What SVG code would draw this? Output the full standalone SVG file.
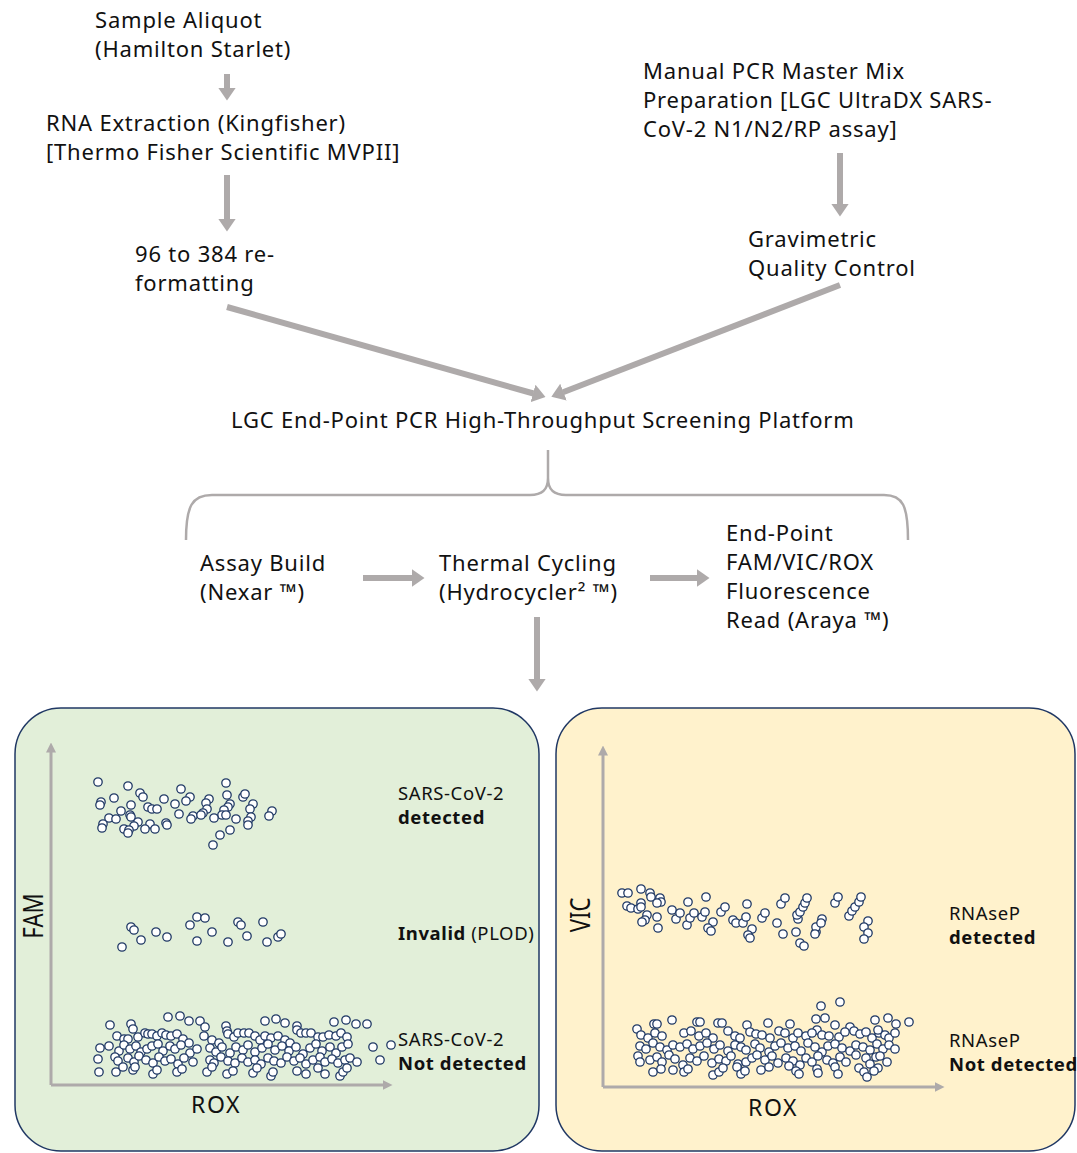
<svg xmlns="http://www.w3.org/2000/svg" xmlns:xlink="http://www.w3.org/1999/xlink" width="1077" height="1153" viewBox="0 0 1077 1153">
<style>
text{font-family:"Noto Sans","Open Sans","Liberation Sans",sans-serif;fill:#111;}
.t{font-size:22px;letter-spacing:0.8px;}
.l{font-size:18.5px;letter-spacing:0.6px;}
.rox{font-size:23px;letter-spacing:1.5px;}
.ax-lbl{font-size:27px;}
.b{font-weight:bold;}
.arr{stroke:#aeaaaa;stroke-width:6;fill:none;marker-end:url(#ah);}
.ax{stroke:#aeaaaa;stroke-width:3;fill:none;marker-end:url(#axh);}
.brace{stroke:#aeaaaa;stroke-width:2.5;fill:none;}
.pg{fill:#e2efd9;stroke:#203864;stroke-width:1.5;}
.py{fill:#fff2cc;stroke:#203864;stroke-width:1.5;}
</style>
<defs>
<marker id="ah" viewBox="0 0 13 18" refX="0.5" refY="9" markerWidth="13" markerHeight="18" markerUnits="userSpaceOnUse" orient="auto"><path d="M0,0 L13,9 L0,18 Z" fill="#aeaaaa"/></marker>
<marker id="axh" viewBox="0 0 10 10" refX="0.5" refY="5" markerWidth="10" markerHeight="10" markerUnits="userSpaceOnUse" orient="auto"><path d="M0,0 L10,5 L0,10 Z" fill="#aeaaaa"/></marker>
<circle id="c" r="4.2" fill="#fff" stroke="#1f3864" stroke-width="1.3"/>
</defs>

<g id="connectors">
<line class="arr" x1="227" y1="74" x2="227" y2="88"/>
<line class="arr" x1="227" y1="175" x2="227" y2="219"/>
<line class="arr" x1="840" y1="153" x2="840" y2="204"/>
<line class="arr" x1="227" y1="307" x2="533.5" y2="393.5"/>
<line class="arr" x1="840" y1="285" x2="563" y2="392.3"/>
<line class="arr" x1="363" y1="578" x2="412" y2="578"/>
<line class="arr" x1="650" y1="578" x2="697" y2="578"/>
<line class="arr" x1="537" y1="617" x2="537" y2="679"/>
<path class="brace" d="M186,540 C186,506 192,495 212,495 L530,495 C542,495 548,490 548,478 L548,450 M548,478 C548,490 554,495 566,495 L884,495 C903,495 908,506 908,540"/>
</g>

<g id="sample-aliquot"><text class="t" x="95" y="28">Sample Aliquot</text><text class="t" x="95" y="57">(Hamilton Starlet)</text></g>
<g id="rna-extraction"><text class="t" x="46" y="131">RNA Extraction (Kingfisher)</text><text class="t" x="46" y="160">[Thermo Fisher Scientific MVPII]</text></g>
<g id="reformatting"><text class="t" x="135" y="262">96 to 384 re-</text><text class="t" x="135" y="291">formatting</text></g>
<g id="master-mix"><text class="t" x="643" y="79">Manual PCR Master Mix</text><text class="t" x="643" y="108">Preparation [LGC UltraDX SARS-</text><text class="t" x="643" y="137">CoV-2 N1/N2/RP assay]</text></g>
<g id="gravimetric"><text class="t" x="748" y="247">Gravimetric</text><text class="t" x="748" y="276">Quality Control</text></g>
<g id="platform"><text class="t" x="231" y="428">LGC End-Point PCR High-Throughput Screening Platform</text></g>
<g id="assay-build"><text class="t" x="200" y="571">Assay Build</text><text class="t" x="200" y="600">(Nexar ™)</text></g>
<g id="thermal-cycling"><text class="t" x="439" y="571">Thermal Cycling</text><text class="t" x="439" y="600">(Hydrocycler² ™)</text></g>
<g id="read"><text class="t" x="726" y="541">End-Point</text><text class="t" x="726" y="570">FAM/VIC/ROX</text><text class="t" x="726" y="599">Fluorescence</text><text class="t" x="726" y="628">Read (Araya ™)</text></g>

<g id="fam-panel">
<rect class="pg" x="15" y="708" width="524" height="443" rx="46"/>
<line class="ax" x1="51" y1="1085" x2="51" y2="752"/>
<line class="ax" x1="51" y1="1085" x2="383" y2="1085"/>
<text class="ax-lbl" transform="translate(43,916) rotate(-90) scale(0.82,1)" text-anchor="middle">FAM</text>
<text class="rox" x="216" y="1113" text-anchor="middle">ROX</text>
<text class="l" x="398" y="800">SARS-CoV-2</text><text class="l b" x="398" y="824">detected</text>
<text class="l" x="398" y="940"><tspan class="b">Invalid</tspan> (PLOD)</text>
<text class="l" x="398" y="1046">SARS-CoV-2</text><text class="l b" x="398" y="1070">Not detected</text>
<g class="dots">
<use href="#c" x="98" y="782"/><use href="#c" x="128" y="786"/><use href="#c" x="226" y="783"/><use href="#c" x="140" y="793"/><use href="#c" x="143" y="797"/><use href="#c" x="181" y="789"/><use href="#c" x="114" y="798"/><use href="#c" x="101" y="802"/><use href="#c" x="100" y="805"/><use href="#c" x="164" y="799"/><use href="#c" x="190" y="797"/><use href="#c" x="186" y="801"/><use href="#c" x="209" y="799"/><use href="#c" x="206" y="803"/><use href="#c" x="227" y="795"/><use href="#c" x="243" y="797"/><use href="#c" x="245" y="794"/><use href="#c" x="131" y="805"/><use href="#c" x="148" y="807"/><use href="#c" x="152" y="809"/><use href="#c" x="157" y="809"/><use href="#c" x="175" y="804"/><use href="#c" x="230" y="804"/><use href="#c" x="228" y="807"/><use href="#c" x="253" y="804"/><use href="#c" x="207" y="809"/><use href="#c" x="203" y="813"/><use href="#c" x="250" y="809"/><use href="#c" x="224" y="810"/><use href="#c" x="222" y="815"/><use href="#c" x="226" y="815"/><use href="#c" x="121" y="811"/><use href="#c" x="130" y="815"/><use href="#c" x="131" y="817"/><use href="#c" x="272" y="811"/><use href="#c" x="269" y="816"/><use href="#c" x="109" y="818"/><use href="#c" x="116" y="819"/><use href="#c" x="179" y="814"/><use href="#c" x="193" y="816"/><use href="#c" x="191" y="819"/><use href="#c" x="201" y="815"/><use href="#c" x="214" y="818"/><use href="#c" x="236" y="819"/><use href="#c" x="251" y="817"/><use href="#c" x="248" y="821"/><use href="#c" x="103" y="824"/><use href="#c" x="102" y="828"/><use href="#c" x="138" y="822"/><use href="#c" x="134" y="826"/><use href="#c" x="150" y="824"/><use href="#c" x="166" y="823"/><use href="#c" x="167" y="825"/><use href="#c" x="124" y="829"/><use href="#c" x="129" y="830"/><use href="#c" x="128" y="833"/><use href="#c" x="145" y="829"/><use href="#c" x="155" y="829"/><use href="#c" x="248" y="825"/><use href="#c" x="230" y="830"/><use href="#c" x="220" y="835"/><use href="#c" x="213" y="845"/>
<use href="#c" x="131" y="927"/><use href="#c" x="134" y="930"/><use href="#c" x="122" y="947"/><use href="#c" x="141" y="940"/><use href="#c" x="156" y="932"/><use href="#c" x="167" y="937"/><use href="#c" x="197" y="917"/><use href="#c" x="205" y="918"/><use href="#c" x="190" y="925"/><use href="#c" x="197" y="941"/><use href="#c" x="212" y="932"/><use href="#c" x="238" y="922"/><use href="#c" x="241" y="925"/><use href="#c" x="263" y="922"/><use href="#c" x="228" y="942"/><use href="#c" x="247" y="936"/><use href="#c" x="267" y="942"/><use href="#c" x="278" y="937"/><use href="#c" x="281" y="934"/>
<use href="#c" x="110" y="1025"/><use href="#c" x="131" y="1024"/><use href="#c" x="133" y="1029"/><use href="#c" x="168" y="1017"/><use href="#c" x="180" y="1016"/><use href="#c" x="189" y="1021"/><use href="#c" x="200" y="1021"/><use href="#c" x="205" y="1027"/><use href="#c" x="226" y="1026"/><use href="#c" x="227" y="1031"/><use href="#c" x="265" y="1021"/><use href="#c" x="276" y="1019"/><use href="#c" x="285" y="1023"/><use href="#c" x="297" y="1026"/><use href="#c" x="297" y="1030"/><use href="#c" x="334" y="1022"/><use href="#c" x="346" y="1020"/><use href="#c" x="356" y="1024"/><use href="#c" x="367" y="1024"/>
<use href="#c" x="117" y="1036"/><use href="#c" x="124" y="1039"/><use href="#c" x="128" y="1039"/><use href="#c" x="138" y="1037"/><use href="#c" x="145" y="1033"/><use href="#c" x="148" y="1034"/><use href="#c" x="152" y="1034"/><use href="#c" x="157" y="1036"/><use href="#c" x="162" y="1033"/><use href="#c" x="166" y="1035"/><use href="#c" x="171" y="1036"/><use href="#c" x="177" y="1034"/><use href="#c" x="183" y="1039"/><use href="#c" x="189" y="1043"/><use href="#c" x="204" y="1036"/><use href="#c" x="212" y="1040"/><use href="#c" x="219" y="1043"/><use href="#c" x="228" y="1034"/><use href="#c" x="234" y="1037"/><use href="#c" x="238" y="1033"/><use href="#c" x="244" y="1033"/><use href="#c" x="249" y="1033"/><use href="#c" x="255" y="1036"/><use href="#c" x="260" y="1040"/><use href="#c" x="265" y="1036"/><use href="#c" x="271" y="1038"/><use href="#c" x="278" y="1036"/><use href="#c" x="285" y="1040"/><use href="#c" x="290" y="1043"/><use href="#c" x="301" y="1033"/><use href="#c" x="306" y="1033"/><use href="#c" x="311" y="1033"/><use href="#c" x="318" y="1037"/><use href="#c" x="323" y="1037"/><use href="#c" x="329" y="1035"/><use href="#c" x="336" y="1036"/><use href="#c" x="341" y="1033"/><use href="#c" x="347" y="1037"/>
<use href="#c" x="100" y="1048"/><use href="#c" x="109" y="1046"/><use href="#c" x="119" y="1051"/><use href="#c" x="124" y="1045"/><use href="#c" x="130" y="1049"/><use href="#c" x="136" y="1046"/><use href="#c" x="141" y="1052"/><use href="#c" x="147" y="1049"/><use href="#c" x="152" y="1046"/><use href="#c" x="158" y="1044"/><use href="#c" x="163" y="1051"/><use href="#c" x="170" y="1046"/><use href="#c" x="175" y="1049"/><use href="#c" x="181" y="1045"/><use href="#c" x="190" y="1053"/><use href="#c" x="197" y="1049"/><use href="#c" x="210" y="1048"/><use href="#c" x="216" y="1052"/><use href="#c" x="222" y="1047"/><use href="#c" x="230" y="1053"/><use href="#c" x="236" y="1047"/><use href="#c" x="243" y="1050"/><use href="#c" x="248" y="1045"/><use href="#c" x="255" y="1052"/><use href="#c" x="262" y="1048"/><use href="#c" x="268" y="1044"/><use href="#c" x="275" y="1050"/><use href="#c" x="282" y="1046"/><use href="#c" x="289" y="1051"/><use href="#c" x="296" y="1047"/><use href="#c" x="303" y="1054"/><use href="#c" x="310" y="1048"/><use href="#c" x="316" y="1044"/><use href="#c" x="322" y="1051"/><use href="#c" x="330" y="1047"/><use href="#c" x="336" y="1053"/><use href="#c" x="342" y="1047"/><use href="#c" x="348" y="1044"/><use href="#c" x="373" y="1047"/><use href="#c" x="391" y="1045"/>
<use href="#c" x="98" y="1059"/><use href="#c" x="115" y="1057"/><use href="#c" x="118" y="1061"/><use href="#c" x="128" y="1058"/><use href="#c" x="134" y="1062"/><use href="#c" x="139" y="1056"/><use href="#c" x="146" y="1060"/><use href="#c" x="153" y="1063"/><use href="#c" x="159" y="1057"/><use href="#c" x="165" y="1061"/><use href="#c" x="171" y="1059"/><use href="#c" x="178" y="1064"/><use href="#c" x="184" y="1058"/><use href="#c" x="193" y="1062"/><use href="#c" x="210" y="1060"/><use href="#c" x="214" y="1063"/><use href="#c" x="221" y="1057"/><use href="#c" x="228" y="1061"/><use href="#c" x="235" y="1063"/><use href="#c" x="242" y="1058"/><use href="#c" x="248" y="1062"/><use href="#c" x="255" y="1060"/><use href="#c" x="261" y="1064"/><use href="#c" x="268" y="1058"/><use href="#c" x="274" y="1061"/><use href="#c" x="281" y="1063"/><use href="#c" x="287" y="1057"/><use href="#c" x="294" y="1061"/><use href="#c" x="300" y="1058"/><use href="#c" x="306" y="1064"/><use href="#c" x="313" y="1060"/><use href="#c" x="320" y="1057"/><use href="#c" x="325" y="1062"/><use href="#c" x="332" y="1059"/><use href="#c" x="338" y="1063"/><use href="#c" x="345" y="1060"/><use href="#c" x="350" y="1058"/><use href="#c" x="357" y="1062"/><use href="#c" x="380" y="1060"/>
<use href="#c" x="99" y="1072"/><use href="#c" x="116" y="1072"/><use href="#c" x="123" y="1067"/><use href="#c" x="133" y="1070"/><use href="#c" x="135" y="1067"/><use href="#c" x="153" y="1074"/><use href="#c" x="157" y="1070"/><use href="#c" x="177" y="1072"/><use href="#c" x="182" y="1069"/><use href="#c" x="207" y="1072"/><use href="#c" x="212" y="1067"/><use href="#c" x="227" y="1074"/><use href="#c" x="233" y="1071"/><use href="#c" x="253" y="1073"/><use href="#c" x="257" y="1068"/><use href="#c" x="271" y="1076"/><use href="#c" x="273" y="1072"/><use href="#c" x="297" y="1071"/><use href="#c" x="306" y="1074"/><use href="#c" x="318" y="1068"/><use href="#c" x="325" y="1074"/><use href="#c" x="340" y="1076"/><use href="#c" x="343" y="1072"/><use href="#c" x="347" y="1068"/>
</g>
</g>

<g id="vic-panel">
<rect class="py" x="556" y="708" width="519" height="443" rx="46"/>
<line class="ax" x1="603" y1="1087" x2="603" y2="755"/>
<line class="ax" x1="603" y1="1087" x2="935" y2="1087"/>
<text class="ax-lbl" transform="translate(590,915) rotate(-90) scale(0.82,1)" text-anchor="middle">VIC</text>
<text class="rox" x="773" y="1116" text-anchor="middle">ROX</text>
<text class="l" x="949" y="920">RNAseP</text><text class="l b" x="949" y="944">detected</text>
<text class="l" x="949" y="1047">RNAseP</text><text class="l b" x="949" y="1071">Not detected</text>
<g class="dots">
<use href="#c" x="622" y="893"/><use href="#c" x="628" y="893"/><use href="#c" x="641" y="889"/><use href="#c" x="650" y="893"/><use href="#c" x="651" y="897"/><use href="#c" x="660" y="898"/><use href="#c" x="661" y="902"/><use href="#c" x="627" y="906"/><use href="#c" x="631" y="908"/><use href="#c" x="638" y="909"/><use href="#c" x="641" y="903"/><use href="#c" x="641" y="907"/><use href="#c" x="657" y="903"/><use href="#c" x="647" y="915"/><use href="#c" x="645" y="920"/><use href="#c" x="642" y="922"/><use href="#c" x="657" y="917"/><use href="#c" x="658" y="928"/><use href="#c" x="672" y="910"/><use href="#c" x="676" y="919"/><use href="#c" x="680" y="913"/><use href="#c" x="688" y="902"/><use href="#c" x="687" y="925"/><use href="#c" x="690" y="918"/><use href="#c" x="694" y="913"/><use href="#c" x="702" y="917"/><use href="#c" x="706" y="897"/><use href="#c" x="705" y="912"/><use href="#c" x="713" y="922"/><use href="#c" x="708" y="928"/><use href="#c" x="711" y="931"/><use href="#c" x="721" y="912"/><use href="#c" x="725" y="907"/><use href="#c" x="733" y="920"/><use href="#c" x="736" y="923"/><use href="#c" x="743" y="923"/><use href="#c" x="747" y="904"/><use href="#c" x="746" y="917"/><use href="#c" x="752" y="929"/><use href="#c" x="748" y="935"/><use href="#c" x="750" y="938"/><use href="#c" x="762" y="918"/><use href="#c" x="765" y="913"/><use href="#c" x="777" y="923"/><use href="#c" x="781" y="904"/><use href="#c" x="785" y="898"/><use href="#c" x="783" y="934"/><use href="#c" x="796" y="932"/><use href="#c" x="798" y="919"/><use href="#c" x="797" y="915"/><use href="#c" x="800" y="912"/><use href="#c" x="803" y="907"/><use href="#c" x="805" y="903"/><use href="#c" x="807" y="898"/><use href="#c" x="800" y="943"/><use href="#c" x="804" y="946"/><use href="#c" x="816" y="932"/><use href="#c" x="816" y="927"/><use href="#c" x="822" y="919"/><use href="#c" x="821" y="923"/><use href="#c" x="815" y="934"/><use href="#c" x="835" y="903"/><use href="#c" x="838" y="897"/><use href="#c" x="849" y="916"/><use href="#c" x="852" y="911"/><use href="#c" x="855" y="907"/><use href="#c" x="859" y="902"/><use href="#c" x="861" y="897"/><use href="#c" x="868" y="921"/><use href="#c" x="864" y="927"/><use href="#c" x="868" y="933"/><use href="#c" x="864" y="939"/>
<use href="#c" x="821" y="1006"/><use href="#c" x="840" y="1002"/><use href="#c" x="909" y="1022"/><use href="#c" x="888" y="1018"/><use href="#c" x="896" y="1024"/><use href="#c" x="875" y="1020"/><use href="#c" x="637" y="1029"/><use href="#c" x="672" y="1020"/><use href="#c" x="654" y="1024"/><use href="#c" x="657" y="1024"/><use href="#c" x="718" y="1023"/><use href="#c" x="722" y="1023"/><use href="#c" x="697" y="1022"/><use href="#c" x="700" y="1022"/><use href="#c" x="747" y="1025"/><use href="#c" x="768" y="1023"/><use href="#c" x="790" y="1024"/><use href="#c" x="816" y="1019"/><use href="#c" x="825" y="1018"/><use href="#c" x="817" y="1030"/><use href="#c" x="835" y="1025"/><use href="#c" x="850" y="1027"/>
<use href="#c" x="641" y="1035"/><use href="#c" x="648" y="1038"/><use href="#c" x="655" y="1033"/><use href="#c" x="662" y="1036"/><use href="#c" x="684" y="1033"/><use href="#c" x="691" y="1031"/><use href="#c" x="699" y="1036"/><use href="#c" x="706" y="1033"/><use href="#c" x="713" y="1038"/><use href="#c" x="728" y="1031"/><use href="#c" x="735" y="1036"/><use href="#c" x="740" y="1038"/><use href="#c" x="750" y="1032"/><use href="#c" x="756" y="1034"/><use href="#c" x="762" y="1035"/><use href="#c" x="770" y="1038"/><use href="#c" x="779" y="1031"/><use href="#c" x="785" y="1033"/><use href="#c" x="793" y="1038"/><use href="#c" x="798" y="1033"/><use href="#c" x="806" y="1036"/><use href="#c" x="812" y="1033"/><use href="#c" x="822" y="1035"/><use href="#c" x="829" y="1036"/><use href="#c" x="839" y="1037"/><use href="#c" x="845" y="1032"/><use href="#c" x="854" y="1031"/><use href="#c" x="860" y="1034"/><use href="#c" x="866" y="1032"/><use href="#c" x="872" y="1038"/><use href="#c" x="879" y="1033"/><use href="#c" x="885" y="1035"/><use href="#c" x="889" y="1038"/><use href="#c" x="895" y="1033"/><use href="#c" x="878" y="1030"/>
<use href="#c" x="640" y="1046"/><use href="#c" x="646" y="1049"/><use href="#c" x="653" y="1043"/><use href="#c" x="660" y="1047"/><use href="#c" x="667" y="1050"/><use href="#c" x="673" y="1045"/><use href="#c" x="680" y="1047"/><use href="#c" x="687" y="1044"/><use href="#c" x="693" y="1049"/><use href="#c" x="700" y="1046"/><use href="#c" x="707" y="1043"/><use href="#c" x="714" y="1049"/><use href="#c" x="720" y="1045"/><use href="#c" x="728" y="1051"/><use href="#c" x="735" y="1045"/><use href="#c" x="741" y="1047"/><use href="#c" x="746" y="1050"/><use href="#c" x="755" y="1044"/><use href="#c" x="760" y="1048"/><use href="#c" x="769" y="1052"/><use href="#c" x="775" y="1046"/><use href="#c" x="781" y="1043"/><use href="#c" x="788" y="1048"/><use href="#c" x="795" y="1046"/><use href="#c" x="801" y="1051"/><use href="#c" x="808" y="1043"/><use href="#c" x="815" y="1047"/><use href="#c" x="822" y="1052"/><use href="#c" x="828" y="1046"/><use href="#c" x="835" y="1044"/><use href="#c" x="842" y="1048"/><use href="#c" x="850" y="1051"/><use href="#c" x="856" y="1045"/><use href="#c" x="863" y="1047"/><use href="#c" x="870" y="1050"/><use href="#c" x="877" y="1044"/><use href="#c" x="883" y="1049"/><use href="#c" x="889" y="1045"/><use href="#c" x="895" y="1049"/>
<use href="#c" x="638" y="1056"/><use href="#c" x="640" y="1062"/><use href="#c" x="650" y="1060"/><use href="#c" x="657" y="1057"/><use href="#c" x="662" y="1062"/><use href="#c" x="669" y="1055"/><use href="#c" x="675" y="1059"/><use href="#c" x="683" y="1065"/><use href="#c" x="690" y="1058"/><use href="#c" x="697" y="1061"/><use href="#c" x="704" y="1056"/><use href="#c" x="712" y="1063"/><use href="#c" x="719" y="1059"/><use href="#c" x="726" y="1061"/><use href="#c" x="731" y="1056"/><use href="#c" x="738" y="1064"/><use href="#c" x="746" y="1062"/><use href="#c" x="752" y="1058"/><use href="#c" x="757" y="1055"/><use href="#c" x="765" y="1060"/><use href="#c" x="772" y="1056"/><use href="#c" x="778" y="1063"/><use href="#c" x="786" y="1058"/><use href="#c" x="793" y="1061"/><use href="#c" x="800" y="1065"/><use href="#c" x="806" y="1058"/><use href="#c" x="812" y="1062"/><use href="#c" x="818" y="1056"/><use href="#c" x="827" y="1060"/><use href="#c" x="833" y="1063"/><use href="#c" x="840" y="1057"/><use href="#c" x="846" y="1062"/><use href="#c" x="856" y="1055"/><use href="#c" x="866" y="1058"/><use href="#c" x="870" y="1064"/><use href="#c" x="876" y="1057"/><use href="#c" x="880" y="1056"/><use href="#c" x="887" y="1062"/>
<use href="#c" x="653" y="1072"/><use href="#c" x="661" y="1069"/><use href="#c" x="673" y="1070"/><use href="#c" x="684" y="1072"/><use href="#c" x="688" y="1069"/><use href="#c" x="713" y="1075"/><use href="#c" x="719" y="1072"/><use href="#c" x="723" y="1068"/><use href="#c" x="737" y="1067"/><use href="#c" x="741" y="1074"/><use href="#c" x="745" y="1071"/><use href="#c" x="761" y="1070"/><use href="#c" x="769" y="1067"/><use href="#c" x="789" y="1066"/><use href="#c" x="796" y="1071"/><use href="#c" x="799" y="1074"/><use href="#c" x="817" y="1069"/><use href="#c" x="818" y="1073"/><use href="#c" x="835" y="1067"/><use href="#c" x="838" y="1074"/><use href="#c" x="859" y="1068"/><use href="#c" x="864" y="1072"/><use href="#c" x="867" y="1077"/><use href="#c" x="878" y="1068"/><use href="#c" x="874" y="1071"/>
</g>
</g>
</svg>
